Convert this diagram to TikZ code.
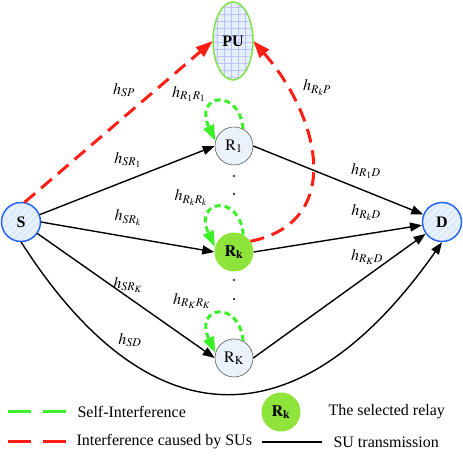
\documentclass[tikz,border=0pt]{standalone}
\usepackage{mathptmx}
\usepackage{fontspec}
\setmainfont{Liberation Serif}
\usetikzlibrary{arrows.meta,patterns.meta,positioning,shapes.geometric}
\definecolor{sufill}{RGB}{221,235,251}
\definecolor{suedge}{RGB}{40,100,250}
\definecolor{pufill}{RGB}{228,240,252}
\definecolor{puedge}{RGB}{130,225,70}
\definecolor{relayfill}{RGB}{234,243,252}
\definecolor{selgreen}{RGB}{142,228,58}
\definecolor{sigreen}{RGB}{60,240,40}
\definecolor{ifred}{RGB}{255,30,20}
\tikzset{
  terminal/.style={ circle, draw=suedge, line width=1.5pt, preaction={fill=sufill},
    pattern={Lines[angle=45,distance=5pt,line width=0.7pt]}, pattern color=white,
    minimum size=39pt, inner sep=0pt }
}
\tikzset{
  primary/.style={ ellipse, draw=puedge, line width=1.5pt, preaction={fill=pufill},
    pattern={Hatch[angle=0,distance=7pt,line width=0.5pt]}, pattern color=blue!25,
    minimum width=40pt, minimum height=78pt, inner sep=0pt }
}
\tikzset{
  relay/.style={ circle, draw=gray!70!black, line width=0.6pt, fill=relayfill, minimum size=38pt, inner sep=0pt }
}
\tikzset{
  selrelay/.style={ circle, fill=selgreen, minimum size=39pt, inner sep=0pt }
}
\tikzset{
  dot/.style={ circle, fill=black, minimum size=2.2pt, inner sep=0pt }
}
\tikzset{
  sutx/.style={ black, line width=1.4pt, -{Triangle[length=12pt,width=9pt]} },
  selfint/.style={ sigreen, line width=3pt, dash pattern=on 6pt off 4pt, -{Triangle[length=16pt,width=11pt]} },
  sint/.style={ ifred, line width=3pt, dash pattern=on 14pt off 8pt, -{Triangle[length=17pt,width=12pt]} },
  legline/.style={ line width=3pt, dash pattern=on 23pt off 12pt }
}

\begin{document}
\begin{tikzpicture}[x=1pt,y=1pt,font=\fontsize{16}{19}\selectfont]
      \useasboundingbox (0,0) rectangle (463,462);

      \node[terminal] (S) at (21,240) {\textbf{S}};
      \node[terminal] (D) at (442,240) {\textbf{D}};
      \node[primary] (PU) at (233,421) {\textbf{PU}};

      \node[relay] (R1) at (234,316) {$\mathrm{R}_1$};
      \node[selrelay] (Rk) at (234,210) {$\mathbf{R}_{\mathbf{k}}$};
      \node[relay] (RK) at (234,104) {$\mathrm{R}_{\mathrm{K}}$};

      \foreach \y [count=\i] in {286,268,250,182,163,144}
        \node[dot] (dot\i) at (234,\y) {};

      % channel labels
      \node (lSP) at (124,372) {$h_{SP}$};
      \node (lSR1) at (128,302) {$h_{SR_1}$};
      \node (lSRk) at (128,244) {$h_{SR_k}$};
      \node (lSRK) at (128,177) {$h_{SR_K}$};
      \node (lSD) at (130,122) {$h_{SD}$};
      \node (lR1R1) at (189,368) {$h_{R_1R_1}$};
      \node (lRkRk) at (191,264) {$h_{R_kR_k}$};
      \node (lRKRK) at (192,161) {$h_{R_KR_K}$};
      \node (lRkP) at (317,374) {$h_{R_kP}$};
      \node (lR1D) at (366,291) {$h_{R_1D}$};
      \node (lRkD) at (366,249) {$h_{R_kD}$};
      \node (lRKD) at (367,205) {$h_{R_KD}$};

      \begin{scope}[sutx]
        \draw (S) -- (R1.west);
        \draw (S.east) -- (Rk.west);
        \draw (S) -- (RK.west);
        \draw (R1.east) -- (D);
        \draw (Rk.east) -- (D);
        \draw (RK.east) -- (D);
        \draw (S.south) .. controls (150,18) and (300,18) .. (D.south);
      \end{scope}

      \begin{scope}[selfint]
        \draw (R1.62) .. controls +(95:42) and +(115:52) .. (R1.165);
        \draw (Rk.62) .. controls +(95:42) and +(115:52) .. (Rk.165);
        \draw (RK.62) .. controls +(95:42) and +(115:52) .. (RK.165);
      \end{scope}

      \begin{scope}[sint]
        \draw (S.80) -- (PU.west);
        \draw (Rk.33) .. controls (345,240) and (320,345) .. (PU.east);
      \end{scope}

      % legend
      \coordinate (gA) at (8,50);
      \coordinate (gB) at (67,50);
      \draw[legline, sigreen] (gA) -- (gB);
      \node[anchor=west] (tSI) at (74,50) {Self-Interference};
      \node[selrelay] (Rsel) at (281,50) {$\mathbf{R}_{\mathbf{k}}$};
      \node[anchor=west] (tSR) at (325,50) {The selected relay};

      \coordinate (rA) at (8,20);
      \coordinate (rB) at (67,20);
      \draw[legline, ifred] (rA) -- (rB);
      \node[anchor=west] (tIF) at (73,20) {Interference caused by SUs};
      \coordinate (bA) at (262,20);
      \coordinate (bB) at (322,20);
      \draw[line width=2.2pt] (bA) -- (bB);
      \node[anchor=west] (tSU) at (330,20) {SU transmission};
    \end{tikzpicture}
\end{document}
